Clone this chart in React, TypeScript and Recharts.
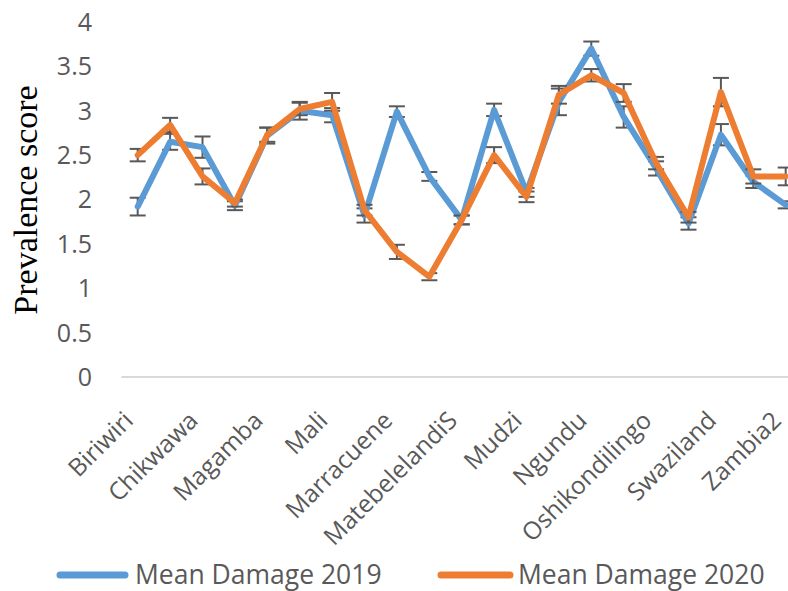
import React from 'react';
import { LineChart, Line, XAxis, YAxis, ErrorBar, Legend } from 'recharts';

const categories = [
  'Biriwiri', '', 'Chikwawa', '', 'Magamba', '', 'Mali', '', 'Marracuene', '',
  'MatebelelandiS', '', 'Mudzi', '', 'Ngundu', '', 'Oshikondilingo', '', 'Swaziland', '', 'Zambia2',
];
const damage2019 = [1.92, 2.65, 2.59, 1.93, 2.72, 3.0, 2.95, 1.82, 2.99, 2.26, 1.77, 3.01, 2.08, 3.1, 3.7, 2.93, 2.35, 1.73, 2.73, 2.2, 1.94];
const damage2020 = [2.5, 2.84, 2.26, 1.96, 2.73, 3.02, 3.1, 1.88, 1.41, 1.13, 1.77, 2.5, 2.03, 3.18, 3.4, 3.2, 2.41, 1.8, 3.21, 2.26, 2.26];
const err2019 = [0.1, 0.09, 0.12, 0.05, 0.09, 0.1, 0.08, 0.08, 0.06, 0.05, 0.05, 0.07, 0.05, 0.15, 0.08, 0.12, 0.08, 0.07, 0.12, 0.07, 0.04];
const err2020 = [0.07, 0.08, 0.09, 0.04, 0.08, 0.07, 0.1, 0.06, 0.08, 0.04, 0.05, 0.09, 0.06, 0.1, 0.07, 0.1, 0.07, 0.06, 0.16, 0.08, 0.1];
const yTicks = [0, 0.5, 1, 1.5, 2, 2.5, 3, 3.5, 4];
const seriesNames = ['Mean Damage 2019', 'Mean Damage 2020'];

const data = categories.map((name, i) => ({
  name,
  d2019: damage2019[i],
  d2020: damage2020[i],
  e2019: err2019[i],
  e2020: err2020[i],
}));

const BLUE = '#5B9BD5';
const ORANGE = '#ED7D31';
const GREY = '#595959';
const FONT = '"Open Sans", "Noto Sans", sans-serif';

const CategoryTick = (props: any) => {
  const { x, y, payload } = props;
  const ax = x - 3;
  const ay = y + 37;
  return (
    <text
      x={ax}
      y={ay}
      transform={`rotate(-45 ${ax} ${ay})`}
      textAnchor="end"
      fill={GREY}
      fontSize={24.5}
      fontFamily={FONT}
    >
      {payload.value}
    </text>
  );
};

const LegendContent = () => (
  <svg width={788} height={44} style={{ display: 'block' }}>
    <line x1={60} y1={28} x2={125} y2={28} stroke={BLUE} strokeWidth={7} strokeLinecap="round" />
    <text x={135} y={37} fill={GREY} fontSize={26.5} fontFamily={FONT}>{seriesNames[0]}</text>
    <line x1={441} y1={28} x2={510} y2={28} stroke={ORANGE} strokeWidth={7} strokeLinecap="round" />
    <text x={518} y={37} fill={GREY} fontSize={26.5} fontFamily={FONT}>{seriesNames[1]}</text>
  </svg>
);

export default function App() {
  return (
    <div style={{ position: 'absolute', left: 0, top: 0, width: 788, height: 591, overflow: 'hidden', background: '#fff' }}>
      <LineChart width={788} height={591} data={data} margin={{ top: 22, right: 0, left: 0, bottom: 0 }}>
        <XAxis
          dataKey="name"
          interval={1}
          tickLine={false}
          axisLine={{ stroke: '#D9D9D9', strokeWidth: 2 }}
          tick={<CategoryTick />}
          height={170}
          padding={{ left: 16.2, right: 2.3 }}
        />
        <YAxis
          width={121.5}
          domain={[0, 4]}
          ticks={yTicks}
          axisLine={false}
          tickLine={false}
          tickSize={0}
          tickMargin={29.5}
          tick={{ fill: GREY, fontSize: 25, fontFamily: FONT }}
          label={(p: any) => (
            <text
              x={37}
              y={200}
              transform="rotate(-90 37 200)"
              textAnchor="middle"
              fill="#000"
              fontSize={34}
              fontFamily='"Liberation Serif", "Times New Roman", serif'
            >
              Prevalence score
            </text>
          )}
        />
        <Legend
          verticalAlign="bottom"
          content={<LegendContent />}
          wrapperStyle={{ left: 0, width: 788, height: 44 }}
        />
        <Line
          type="linear"
          dataKey="d2019"
          name={seriesNames[0]}
          stroke={BLUE}
          strokeWidth={6}
          strokeLinejoin="round"
          strokeLinecap="round"
          dot={false}
          activeDot={false}
          isAnimationActive={false}
        >
          <ErrorBar dataKey="e2019" direction="y" width={8} stroke={GREY} strokeWidth={2} isAnimationActive={false} />
        </Line>
        <Line
          type="linear"
          dataKey="d2020"
          name={seriesNames[1]}
          stroke={ORANGE}
          strokeWidth={6}
          strokeLinejoin="round"
          strokeLinecap="round"
          dot={false}
          activeDot={false}
          isAnimationActive={false}
        >
          <ErrorBar dataKey="e2020" direction="y" width={8} stroke={GREY} strokeWidth={2} isAnimationActive={false} />
        </Line>
      </LineChart>
    </div>
  );
}
